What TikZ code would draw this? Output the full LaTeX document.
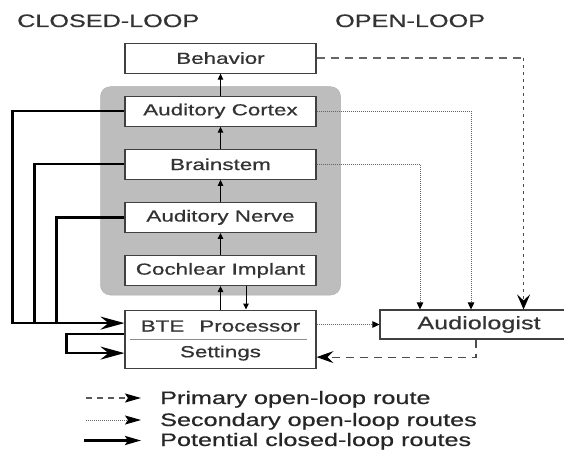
\documentclass[tikz,border=0pt]{standalone}
\usepackage{fontspec}
\setmainfont{Liberation Sans}[FakeStretch=1.4,FakeBold=0.6]
\usetikzlibrary{arrows.meta,positioning,backgrounds,fit}

\begin{document}
\begin{tikzpicture}[x=1pt, y=1pt,
    node distance=22pt,
    box/.style={draw=black!75, line width=1.1pt, fill=white, minimum width=191pt,
      minimum height=30pt, inner sep=0pt, font=\fontsize{16}{18}\selectfont, text=black!80},
    title/.style={anchor=base west, inner sep=0pt, font=\fontsize{18}{20}\selectfont, text=black!80},
    legtext/.style={anchor=base west, inner sep=0pt, font=\fontsize{18}{20}\selectfont, text=black!85},
    region/.style={draw=black!32, fill=black!26, rounded corners=10pt, inner xsep=24pt, inner ysep=9pt},
    flow/.style={-{Triangle[length=6pt,width=5.5pt]}, line width=1pt},
    loopline/.style={line width=2.4pt},
    looparr/.style={loopline, -{Stealth[length=24pt,width=13pt,inset=8pt]}},
    primaryline/.style={black!60, line width=1.6pt, dash pattern=on 8pt off 6pt},
    primaryv/.style={black!70, line width=1.8pt, dash pattern=on 3pt off 4pt,
      -{Stealth[length=15pt,width=13pt,inset=6pt,black]}},
    secondaryline/.style={black!60, line width=0.8pt, dash pattern=on 1pt off 1pt,
      -{Triangle[length=7pt,width=6.5pt,black]}},
    returnline/.style={black!70, line width=1.2pt, dash pattern=on 8pt off 6pt,
      -{Stealth[length=17pt,width=12pt,inset=6pt,black]}},
    leghead/.style={-{Stealth[length=16pt,width=9pt,inset=3pt,black]}},
  ]
  \useasboundingbox (0,0) rectangle (564,450);

  % titles
  \node[title] (closedt) at (17,423) {CLOSED-LOOP};
  \node[title] (opent) at (335,423) {OPEN-LOOP};

  % the pathway
  \node[box] (ci) at (220.5,179.5) {Cochlear Implant};
  \node[box, above=of ci] (nerve) {Auditory Nerve};
  \node[box, above=of nerve] (brain) {Brainstem};
  \node[box, above=of brain] (cortex) {Auditory Cortex};
  \node[box, above=of cortex] (behav) {Behavior};
  \node[box, minimum height=58pt, below=23.5pt of ci] (bte) {};
  \node (proc) at ([yshift=13pt]bte.center) {\fontsize{16}{18}\selectfont\color{black!80}BTE\hspace{15pt}Processor};
  \node (sett) at ([yshift=-14pt]bte.center) {\fontsize{16}{18}\selectfont\color{black!80}Settings};
  \draw[black!45, line width=0.6pt] ([xshift=6pt]bte.west) -- ([xshift=-10pt]bte.east);
  \node[box, minimum width=198pt, minimum height=29pt, font=\fontsize{18}{20}\selectfont] (aud) at (479,125.5) {Audiologist};

  \begin{scope}[on background layer]
    \node[region, fit=(cortex)(ci)] (brainbox) {};
  \end{scope}

  \draw[flow] (bte.north) -- (ci.south);
  \draw[flow] (ci) -- (nerve);
  \draw[flow] (nerve) -- (brain);
  \draw[flow] (brain) -- (cortex);
  \draw[flow] (cortex) -- (behav);
  \draw[flow] ([xshift=25.5pt]ci.south) -- ([xshift=25.5pt]bte.north);

  % closed-loop routes
  \coordinate (feed) at ([yshift=16pt]bte.west);
  \coordinate (jb) at ([xshift=-90pt]feed);
  \coordinate (jn) at ([xshift=-68pt]feed);
  \draw[loopline] (brain.west) -| (jb);
  \draw[loopline] (nerve.west) -| (jn);
  \draw[looparr] (cortex.west) -- ++(-112pt,0) |- (feed);
  \coordinate (selfout) at ([yshift=5pt]bte.west);
  \coordinate (selfin) at ([yshift=-14pt]bte.west);
  \draw[looparr] (selfout) -- ++(-58pt,0) |- (selfin);

  % open-loop routes
  \coordinate (pcorner) at ([xshift=207pt]behav.east);
  \draw[primaryline] (behav.east) -- (pcorner);
  \draw[primaryv] (pcorner) -- (pcorner |- aud.north);
  \draw[secondaryline] (cortex.east) -| ([xshift=-8pt]aud.north);
  \draw[secondaryline] (brain.east) -| ([xshift=-59pt]aud.north);
  \draw[secondaryline] (bte.east |- aud.west) -- (aud.west);
  \draw[returnline] ([xshift=-3pt]aud.south) |- ([yshift=-18pt]bte.east);

  % legend
  \coordinate (k1) at (86,52);
  \coordinate (k2) at (86,30);
  \coordinate (k3) at (84,9.5);
  \node[legtext] (l1) at (160,46) {Primary open-loop route};
  \node[legtext] (l2) at (160,24) {Secondary open-loop routes};
  \node[legtext] (l3) at (160,4) {Potential closed-loop routes};
  \draw[leghead, black!65, line width=1.3pt, dash pattern=on 6pt off 5pt] (k1) -- ([xshift=-19pt]l1.west |- k1);
  \draw[leghead, black!60, line width=0.9pt, dash pattern=on 1pt off 1pt] (k2) -- ([xshift=-19pt]l2.west |- k2);
  \draw[leghead, line width=2.4pt] (k3) -- ([xshift=-19pt]l3.west |- k3);
\end{tikzpicture}
\end{document}
